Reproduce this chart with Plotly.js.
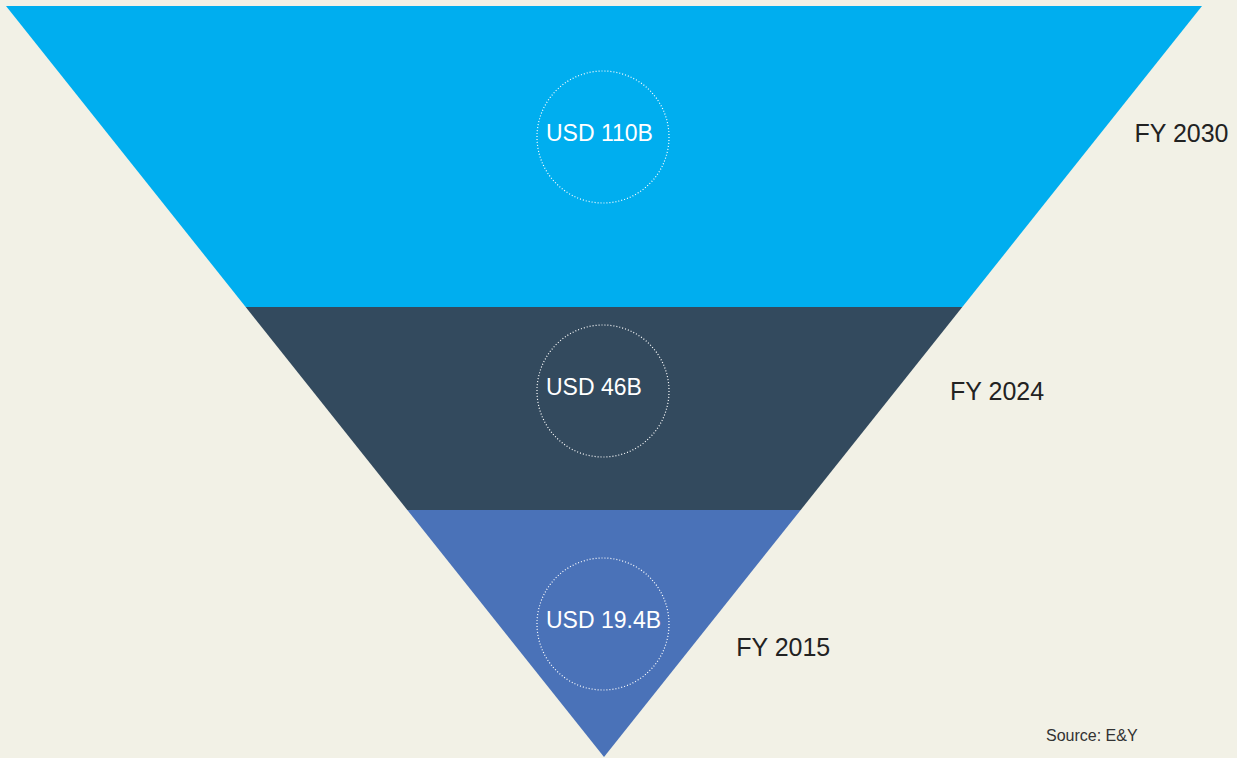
<!DOCTYPE html>
<html>
<head>
<meta charset="utf-8">
<script src="https://cdn.plot.ly/plotly-3.0.1.min.js"></script>
<style>
html,body{margin:0;padding:0;background:#F2F1E6;}
#chart{width:1237px;height:758px;}
</style>
</head>
<body>
<div id="chart"></div>
<script>
// ---- data (bottom to top) ----
const years = ['FY 2015', 'FY 2024', 'FY 2030'];
const marketValues = [19.4, 46, 110];
const valueLabels = ['USD 19.4B', 'USD 46B', 'USD 110B'];
const sourceNote = 'Source: E&Y';

// ---- layout geometry (pixel-like plot units) ----
const W = 1237, H = 758;
const apex = {x: 603, y: 757};
const topY = 6, topLeft = 6, topRight = 1202;
const bandEdges = [757, 510, 307, 6];          // bottom of each band, last = top
const circleY = [624, 391, 137];
const circleR = 66;
const valueLabelLeft = 546;
const valueLabelDy = -2;
const yearLabelY = [650, 394, 136];
const labelGap = [47, 57, 36];
const bandColors = ['#4A72B8', '#334A5E', '#00AEEF'];

const cx = (topLeft + topRight) / 2;
const halfTop = (topRight - topLeft) / 2;
function halfWidth(y) { return halfTop * (apex.y - y) / (apex.y - topY); }

const traces = [];
years.forEach((yr, i) => {
  const yb = bandEdges[i], yt = bandEdges[i + 1];
  const hb = halfWidth(yb), ht = halfWidth(yt);
  traces.push({
    type: 'scatter', mode: 'lines', fill: 'toself',
    x: [cx - hb, cx + hb, cx + ht, cx - ht, cx - hb],
    y: [yb, yb, yt, yt, yb],
    fillcolor: bandColors[i], line: {width: 0, color: bandColors[i]},
    hoverinfo: 'text', text: yr + ': ' + valueLabels[i] + ' (' + marketValues[i] + ')',
    showlegend: false
  });
});

// value labels (left-aligned inside circles)
traces.push({
  type: 'scatter', mode: 'text',
  x: years.map(() => valueLabelLeft),
  y: circleY.map(y => y + valueLabelDy),
  text: valueLabels,
  textposition: 'middle right',
  textfont: {family: 'Liberation Sans, Arial, sans-serif', size: 23, color: '#FFFFFF'},
  hoverinfo: 'skip', showlegend: false
});

// year labels
traces.push({
  type: 'scatter', mode: 'text',
  x: yearLabelY.map((y, i) => cx + halfWidth(y) + labelGap[i]),
  y: yearLabelY,
  text: years,
  textposition: 'middle right',
  textfont: {family: 'Liberation Sans, Arial, sans-serif', size: 25, color: '#222222'},
  hoverinfo: 'skip', showlegend: false
});

const shapes = circleY.map(y => ({
  type: 'circle', xref: 'x', yref: 'y',
  x0: cx - 1 - circleR, x1: cx - 1 + circleR, y0: y - circleR, y1: y + circleR,
  line: {color: '#FFFFFF', width: 1.2, dash: '1px,2px'},
  fillcolor: 'rgba(0,0,0,0)'
}));

const layout = {
  width: W, height: H,
  margin: {l: 0, r: 0, t: 0, b: 0},
  paper_bgcolor: '#F2F1E6', plot_bgcolor: '#F2F1E6',
  xaxis: {range: [0, W], visible: false, fixedrange: true},
  yaxis: {range: [H, 0], visible: false, fixedrange: true},
  shapes: shapes,
  annotations: [{
    text: sourceNote, xref: 'x', yref: 'y', x: 1044, y: 735,
    xanchor: 'left', yanchor: 'middle', showarrow: false,
    font: {family: 'Liberation Sans, Arial, sans-serif', size: 16, color: '#333333'}
  }]
};

Plotly.newPlot('chart', traces, layout, {displayModeBar: false, staticPlot: true});
</script>
</body>
</html>
